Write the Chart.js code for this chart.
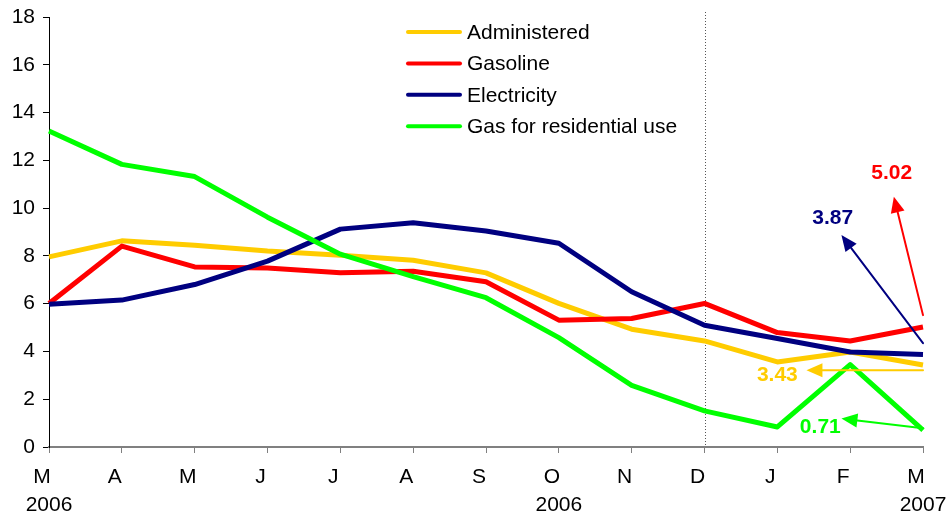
<!DOCTYPE html>
<html>
<head>
<meta charset="utf-8">
<script src="https://cdn.jsdelivr.net/npm/chart.js@4"></script>
<style>
  html, body { margin: 0; padding: 0; background: #fff; }
  #wrap { width: 947px; height: 517px; }
</style>
</head>
<body>
<div id="wrap"><canvas id="c" width="947" height="517"></canvas></div>
<script>
// Monthly categories, March 2006 to March 2007
const months = ['M', 'A', 'M', 'J', 'J', 'A', 'S', 'O', 'N', 'D', 'J', 'F', 'M'];
const years = ['2006', '', '', '', '', '', '', '2006', '', '', '', '', '2007'];

// Annual inflation, %
const administered   = [7.96, 8.63, 8.45, 8.20, 8.03, 7.82, 7.29, 6.01, 4.93, 4.44, 3.56, 3.98, 3.43];
const gasoline       = [6.01, 8.41, 7.54, 7.49, 7.29, 7.36, 6.92, 5.31, 5.38, 6.01, 4.79, 4.44, 5.02];
const electricity    = [5.98, 6.15, 6.80, 7.78, 9.12, 9.39, 9.04, 8.53, 6.50, 5.10, 4.54, 3.98, 3.87];
const gasResidential = [13.23, 11.83, 11.32, 9.62, 8.07, 7.13, 6.25, 4.58, 2.58, 1.51, 0.84, 3.45, 0.71];

const FONT = '"Liberation Sans", Arial, sans-serif';
const COLORS = { adm: '#FFCC00', gas: '#FF0000', ele: '#000080', res: '#00FF00' };

// Value call-outs for the latest month: text position and arrow, in data units
const callouts = [
  { series: gasoline,       color: COLORS.gas, text: [11.57, 11.48], from: [12, 5.52], to: [11.60, 10.48] },
  { series: electricity,    color: COLORS.ele, text: [10.76, 9.58],  from: [12, 4.35], to: [10.88, 8.87] },
  { series: administered,   color: COLORS.adm, text: [10.00, 3.00],  from: [12, 3.21], to: [10.40, 3.21] },
  { series: gasResidential, color: COLORS.res, text: [10.59, 0.83],  from: [12, 0.78], to: [10.88, 1.19] }
];

function arrow(ctx, x1, y1, x2, y2, color) {
  const ang = Math.atan2(y2 - y1, x2 - x1);
  const len = 16, half = 7;
  const bx = x2 - len * Math.cos(ang), by = y2 - len * Math.sin(ang);
  ctx.save();
  ctx.strokeStyle = color; ctx.fillStyle = color; ctx.lineWidth = 2;
  ctx.beginPath(); ctx.moveTo(x1, y1); ctx.lineTo(bx, by); ctx.stroke();
  ctx.beginPath();
  ctx.moveTo(x2, y2);
  ctx.lineTo(bx + half * Math.sin(ang), by - half * Math.cos(ang));
  ctx.lineTo(bx - half * Math.sin(ang), by + half * Math.cos(ang));
  ctx.closePath(); ctx.fill();
  ctx.restore();
}

const decor = {
  id: 'decor',
  beforeDatasetsDraw(chart) {
    // dotted separator at December
    const { ctx, chartArea, scales: { x } } = chart;
    const px = Math.round(x.getPixelForValue(9)) + 0.5;
    ctx.save();
    ctx.strokeStyle = '#555'; ctx.lineWidth = 1; ctx.setLineDash([1, 2]);
    ctx.beginPath(); ctx.moveTo(px, chartArea.top - 5); ctx.lineTo(px, chartArea.bottom); ctx.stroke();
    ctx.restore();
  },
  afterDraw(chart) {
    const { ctx, scales: { x, y } } = chart;
    ctx.save();
    // year row under the month labels
    ctx.font = '21px ' + FONT; ctx.fillStyle = '#000';
    ctx.textAlign = 'center'; ctx.textBaseline = 'middle';
    years.forEach((yr, i) => { if (yr) ctx.fillText(yr, x.getPixelForValue(i), 505); });

    // legend
    ctx.textAlign = 'left';
    chart.data.datasets.forEach((ds, i) => {
      const ly = 32 + i * 31.4;
      ctx.strokeStyle = ds.borderColor; ctx.lineWidth = 4; ctx.lineCap = 'round';
      ctx.beginPath(); ctx.moveTo(408, ly); ctx.lineTo(460, ly); ctx.stroke();
      ctx.fillStyle = '#000';
      ctx.fillText(ds.label, 467, ly + 1);
    });

    // call-outs
    ctx.font = 'bold 21px ' + FONT;
    ctx.textAlign = 'center';
    callouts.forEach(c => {
      arrow(ctx, x.getPixelForValue(c.from[0]), y.getPixelForValue(c.from[1]),
                 x.getPixelForValue(c.to[0]), y.getPixelForValue(c.to[1]), c.color);
      ctx.fillStyle = c.color;
      ctx.fillText(c.series[c.series.length - 1].toFixed(2),
                   x.getPixelForValue(c.text[0]), y.getPixelForValue(c.text[1]));
    });
    ctx.restore();
  }
};

const line = (label, data, color, order) => ({
  label, data, borderColor: color, backgroundColor: color,
  borderWidth: 5, pointRadius: 0, tension: 0, fill: false,
  borderJoinStyle: 'round', order
});

new Chart(document.getElementById('c'), {
  type: 'line',
  data: {
    labels: months,
    datasets: [
      line('Administered', administered, COLORS.adm, 3),
      line('Gasoline', gasoline, COLORS.gas, 2),
      line('Electricity', electricity, COLORS.ele, 1),
      line('Gas for residential use', gasResidential, COLORS.res, 0)
    ]
  },
  options: {
    responsive: false,
    animation: false,
    events: [],
    layout: { padding: { top: 17, right: 24, left: 0, bottom: 0 } },
    plugins: { legend: { display: false }, tooltip: { enabled: false } },
    scales: {
      x: {
        offset: false,
        grid: { display: true, drawOnChartArea: false, color: '#808080', lineWidth: 1, tickLength: 6 },
        border: { display: true, color: '#808080', width: 2 },
        ticks: {
          autoSkip: false, maxRotation: 0, labelOffset: -7, padding: 12,
          color: '#000', font: { family: FONT, size: 21 }
        },
        afterFit(s) { s.height = 70; }
      },
      y: {
        min: 0, max: 18,
        grid: { display: true, drawOnChartArea: false, color: '#000', lineWidth: 1, tickLength: 6 },
        border: { display: true, color: '#000', width: 1 },
        ticks: { stepSize: 2, padding: 8, color: '#000', font: { family: FONT, size: 21 } },
        afterFit(s) { s.width = 49; s.paddingTop = 0; }
      }
    }
  },
  plugins: [decor]
});
</script>
</body>
</html>
